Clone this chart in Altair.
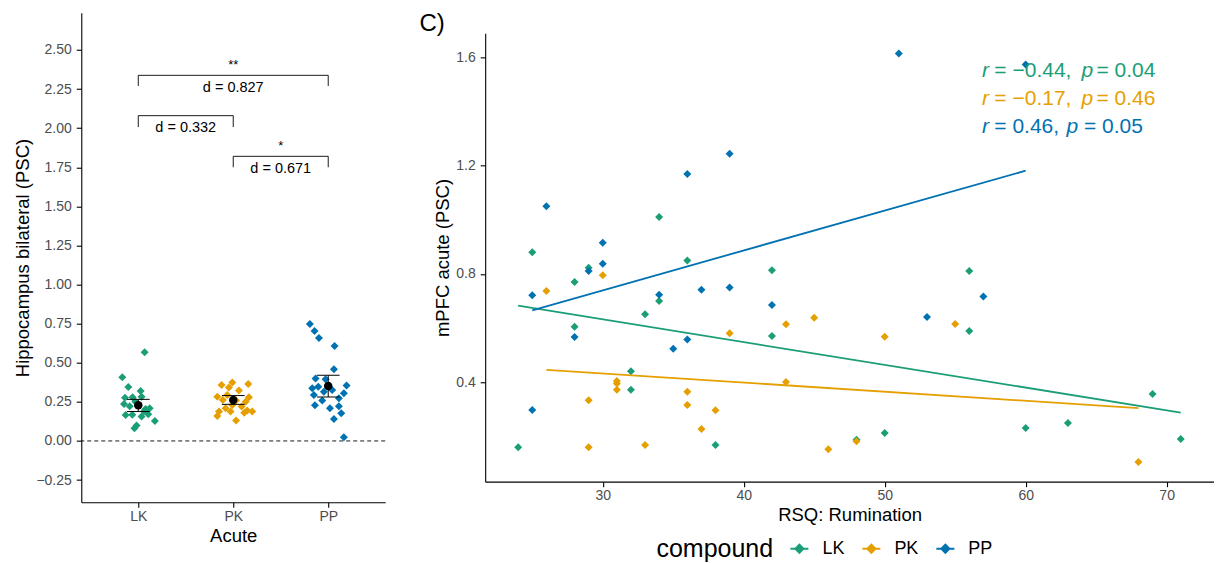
import altair as alt
import pandas as pd

FONT = "Liberation Sans"
compounds = ["LK", "PK", "PP"]
palette = ["#1B9E77", "#E69F00", "#0072B2"]

# ---------------- left panel: Hippocampus bilateral (PSC), jittered strip ----------------
lk_hipp = [0.567, 0.407, 0.345, 0.320, 0.277, 0.279, 0.283, 0.237, 0.222, 0.209, 0.205,
           0.166, 0.168, 0.156, 0.171, 0.128, 0.098, 0.081, 0.230, 0.250, 0.190]
lk_jit = [0.067, -0.168, -0.105, 0.025, -0.14, -0.06, 0.035, -0.15, -0.09, 0.12, 0.077,
          -0.133, -0.063, 0.035, 0.105, 0.175, -0.018, -0.04, 0.0, -0.03, 0.06]
pk_hipp = [0.358, 0.373, 0.364, 0.322, 0.341, 0.283, 0.279, 0.262, 0.251, 0.230, 0.220,
           0.188, 0.160, 0.188, 0.181, 0.188, 0.130, 0.294, 0.258, 0.209, 0.194]
pk_jit = [-0.123, -0.01, 0.158, 0.06, -0.046, -0.168, 0.165, -0.11, 0.13, -0.01, 0.088,
          -0.15, -0.168, -0.028, 0.116, 0.2, 0.03, -0.063, 0.03, -0.08, 0.147]
pp_hipp = [0.748, 0.703, 0.658, 0.607, 0.458, 0.400, 0.394, 0.347, 0.337, 0.294, 0.354,
           0.305, 0.315, 0.326, 0.258, 0.273, 0.228, 0.222, 0.209, 0.177, 0.141, 0.023]
pp_jit = [-0.193, -0.144, -0.098, 0.067, 0.06, -0.133, -0.028, -0.105, -0.168, -0.151, 0.193,
          0.165, -0.046, 0.042, -0.063, 0.112, -0.14, 0.112, 0.018, 0.137, 0.06, 0.165]

group_mean = [0.228, 0.262, 0.352]
group_lo = [0.188, 0.234, 0.281]
group_hi = [0.266, 0.290, 0.420]

bracket_from = [1, 1, 2]
bracket_to = [2, 3, 3]
bracket_top = [2.080, 2.338, 1.820]
bracket_tip = [2.007, 2.270, 1.750]
bracket_d = ["d = 0.332", "d = 0.827", "d = 0.671"]
bracket_d_y = [1.978, 2.233, 1.716]
bracket_stars = ["", "**", "*"]
bracket_stars_y = [2.10, 2.377, 1.858]

# ---------------- right panel: mPFC acute vs RSQ rumination ----------------
lk_rsq = [24, 25, 28, 28, 29, 32, 32, 33, 34, 34, 36, 38, 42, 42, 48, 50, 56, 56, 60, 63, 69, 71]
lk_mpfc = [0.160, 0.880, 0.770, 0.605, 0.823, 0.440, 0.372, 0.651, 1.010, 0.700, 0.850,
           0.168, 0.814, 0.571, 0.187, 0.212, 0.811, 0.589, 0.231, 0.249, 0.356, 0.190]
pk_rsq = [26, 29, 29, 30, 31, 31, 31, 33, 36, 36, 37, 38, 39, 43, 43, 45, 46, 48, 50, 55, 68]
pk_mpfc = [0.737, 0.333, 0.160, 0.795, 0.404, 0.395, 0.372, 0.168, 0.365, 0.316, 0.227,
           0.296, 0.581, 0.614, 0.401, 0.638, 0.152, 0.182, 0.568, 0.615, 0.105]
pp_rsq = [25, 25, 26, 28, 29, 30, 30, 34, 35, 36, 36, 37, 39, 39, 42, 51, 53, 57, 60]
pp_mpfc = [0.721, 0.297, 1.050, 0.567, 0.811, 0.915, 0.838, 0.723, 0.524, 1.169, 0.558,
           0.742, 1.244, 0.750, 0.685, 1.615, 0.641, 0.717, 1.574]

stat_r = ["\u22120.44", "\u22120.17", "0.46"]
stat_p = ["0.04", "0.46", "0.05"]
panel_tag = ["C)"]

# ---------------- tables ----------------
rows = []
for i, (c, vals, jits) in enumerate(zip(compounds, [lk_hipp, pk_hipp, pp_hipp], [lk_jit, pk_jit, pp_jit])):
    for v, j in zip(vals, jits):
        rows.append({"compound": c, "xpos": i + 1 + j, "psc": v})
strip = pd.DataFrame(rows)
summ = pd.DataFrame({"compound": compounds, "idx": [1, 2, 3], "mean": group_mean,
                     "lo": group_lo, "hi": group_hi})
summ["cap0"] = summ["idx"] - 0.12
summ["cap1"] = summ["idx"] + 0.12

seg = []
for f, t, top, tip in zip(bracket_from, bracket_to, bracket_top, bracket_tip):
    seg.append({"x": f, "x2": t, "y": top, "y2": top})
    seg.append({"x": f, "x2": f, "y": top, "y2": tip})
    seg.append({"x": t, "x2": t, "y": top, "y2": tip})
seg = pd.DataFrame(seg)
lab = pd.DataFrame({"mid": [(f + t) / 2 for f, t in zip(bracket_from, bracket_to)],
                    "d": bracket_d, "dy": bracket_d_y, "stars": bracket_stars,
                    "sy": bracket_stars_y})

prow = []
for c, xs, ys in zip(compounds, [lk_rsq, pk_rsq, pp_rsq], [lk_mpfc, pk_mpfc, pp_mpfc]):
    for x, y in zip(xs, ys):
        prow.append({"compound": c, "rsq": x, "mpfc": y})
pts = pd.DataFrame(prow)

# annotation pieces (italic r / p, upright rest), placed in data units
line_y = [1.528, 1.424, 1.322]
p_x = [63.96, 63.96, 62.9]
eq2_x = [65.02, 65.02, 64.14]
ann = []
for k, c in enumerate(compounds):
    ann.append({"compound": c, "t": "r", "x": 56.91, "y": line_y[k], "it": True})
    ann.append({"compound": c, "t": "= " + stat_r[k] + ",", "x": 57.78, "y": line_y[k], "it": False})
    ann.append({"compound": c, "t": "p", "x": p_x[k], "y": line_y[k], "it": True})
    ann.append({"compound": c, "t": "= " + stat_p[k], "x": eq2_x[k], "y": line_y[k], "it": False})
ann = pd.DataFrame(ann)

# ---------------- scales / axes ----------------
color_scale = alt.Scale(domain=compounds, range=palette)

xs_l = alt.Scale(domain=[0.4, 3.6], nice=False, zero=False)
ys_l = alt.Scale(domain=[-0.392, 2.738], nice=False, zero=False)
label_expr = " : ".join(f"datum.value == {i + 1} ? '{c}'" for i, c in enumerate(compounds)) + " : ''"
ax_xl = alt.Axis(values=[1, 2, 3], labelExpr=label_expr, title="Acute", labelPadding=2, titlePadding=3)
ax_yl = alt.Axis(values=[-0.25 + 0.25 * k for k in range(12)], format=".2f",
                 title="Hippocampus bilateral (PSC)", labelPadding=5, titlePadding=3)


def XL(f):
    return alt.X(f, type="quantitative", scale=xs_l, axis=ax_xl)


def YL(f):
    return alt.Y(f, type="quantitative", scale=ys_l, axis=ax_yl)


zero = alt.Chart(pd.DataFrame({"z": [0.0]})).mark_rule(
    strokeDash=[4, 3], color="black", strokeWidth=0.9).encode(y=YL("z"))
strip_pts = alt.Chart(strip).mark_point(shape="diamond", filled=True, size=64, opacity=1).encode(
    x=XL("xpos"), y=YL("psc"),
    color=alt.Color("compound:N", scale=color_scale, legend=None))
ebar = alt.Chart(summ).mark_rule(color="black", strokeWidth=1).encode(x=XL("idx"), y=YL("lo"), y2="hi")
cap_lo = alt.Chart(summ).mark_rule(color="black", strokeWidth=1).encode(x=XL("cap0"), x2="cap1", y=YL("lo"))
cap_hi = alt.Chart(summ).mark_rule(color="black", strokeWidth=1).encode(x=XL("cap0"), x2="cap1", y=YL("hi"))
mean_pt = alt.Chart(summ).mark_circle(color="black", size=72, opacity=1).encode(x=XL("idx"), y=YL("mean"))
br = alt.Chart(seg).mark_rule(color="black", strokeWidth=0.9).encode(x=XL("x"), x2="x2", y=YL("y"), y2="y2")
br_d = alt.Chart(lab).mark_text(fontSize=14.5, baseline="alphabetic", align="center", color="black").encode(
    x=XL("mid"), y=YL("dy"), text="d:N")
br_s = alt.Chart(lab).mark_text(fontSize=13, baseline="alphabetic", align="center", color="black").encode(
    x=XL("mid"), y=YL("sy"), text="stars:N")

left = alt.layer(zero, strip_pts, ebar, cap_lo, cap_hi, mean_pt, br, br_d, br_s).properties(
    width=304, height=489.6)

# ---------------- right panel ----------------
xs_r = alt.Scale(domain=[21.66, 73.36], nice=False, zero=False)
ys_r = alt.Scale(domain=[0.0325, 1.689], nice=False, zero=False)
ax_xr = alt.Axis(values=[30, 40, 50, 60, 70], format="d", title="RSQ: Rumination",
                 labelPadding=2, titlePadding=3)
ax_yr = alt.Axis(values=[0.4, 0.8, 1.2, 1.6], format=".1f", title="mPFC acute (PSC)",
                 labelPadding=5, titlePadding=3)


def XR(f):
    return alt.X(f, type="quantitative", scale=xs_r, axis=ax_xr)


def YR(f):
    return alt.Y(f, type="quantitative", scale=ys_r, axis=ax_yr)


LEG_SYMBOL = "M-1,-0.1H1V0.1H-1Z M0,-0.6L0.6,0L0,0.6L-0.6,0Z"
legend = alt.Legend(orient="none", legendX=171.3, legendY=506.5, direction="horizontal",
                    title="compound", titleOrient="left", titleFontSize=25, titleFontWeight="normal",
                    titleColor="black", titlePadding=17, labelFontSize=18, labelColor="black",
                    symbolType=LEG_SYMBOL, symbolSize=324, symbolStrokeWidth=0,
                    labelOffset=14, columnPadding=17)

r_pts = alt.Chart(pts).mark_point(shape="diamond", filled=True, size=64, opacity=1).encode(
    x=XR("rsq"), y=YR("mpfc"), color=alt.Color("compound:N", scale=color_scale, legend=legend))
r_fit = alt.Chart(pts).transform_regression("rsq", "mpfc", groupby=["compound"]).mark_line(
    strokeWidth=1.8).encode(x=XR("rsq"), y=YR("mpfc"),
                            color=alt.Color("compound:N", scale=color_scale, legend=None))
r_ann_it = alt.Chart(ann).transform_filter("datum.it").mark_text(
    fontSize=21, fontStyle="italic", align="left", baseline="alphabetic").encode(
    x=XR("x"), y=YR("y"), text="t:N", color=alt.Color("compound:N", scale=color_scale, legend=None))
r_ann = alt.Chart(ann).transform_filter("!datum.it").mark_text(
    fontSize=21, align="left", baseline="alphabetic").encode(
    x=XR("x"), y=YR("y"), text="t:N", color=alt.Color("compound:N", scale=color_scale, legend=None))
r_tag = alt.Chart(pd.DataFrame({"tag": panel_tag})).mark_text(
    fontSize=24, align="left", baseline="alphabetic", color="black").encode(
    x=alt.value(-65.7), y=alt.value(-2.8), text="tag:N")

right = alt.layer(r_pts, r_fit, r_ann_it, r_ann, r_tag).properties(width=729, height=448.4)

chart = alt.hconcat(left, right, spacing=100, bounds="flush", center=True).resolve_scale(
    color="independent").resolve_legend(color="independent").properties(
    padding={"left": 5.3, "top": 3.5, "right": 0, "bottom": 0}).configure(
    font=FONT).configure_view(stroke=None).configure_axis(
    grid=False, domainColor="black", domainWidth=1.1, tickColor="black", tickWidth=1.1, tickSize=5,
    labelColor="#4D4D4D", labelFontSize=14, labelFont=FONT, titleFont=FONT,
    titleFontSize=18.5, titleFontWeight="normal", titleColor="black").configure_title(font=FONT)

chart.save("out.html", embed_options={"renderer": "svg", "actions": False})
